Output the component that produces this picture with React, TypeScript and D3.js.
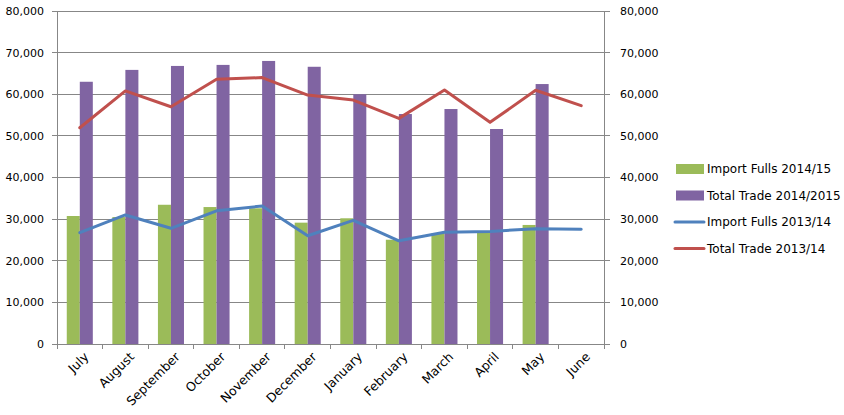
import * as d3 from 'd3';

const months = ['July', 'August', 'September', 'October', 'November', 'December', 'January', 'February', 'March', 'April', 'May', 'June'];
const importFulls1415 = [30750, 30500, 33450, 32900, 32600, 29150, 30200, 25050, 26550, 27000, 28600, null];
const totalTrade1415 = [63000, 65850, 66800, 67050, 68000, 66600, 60000, 55250, 56450, 51650, 62450, null];
const importFulls1314 = [26750, 31000, 27800, 32000, 33150, 26000, 29700, 24800, 26850, 27050, 27700, 27550];
const totalTrade1314 = [51950, 60800, 57000, 63600, 64000, 59800, 58600, 54200, 61000, 53250, 60950, 57250];
const yTicks = [0, 10000, 20000, 30000, 40000, 50000, 60000, 70000, 80000];

const GREEN = '#9BBB59', PURPLE = '#8064A2', BLUE = '#4F81BD', RED = '#C0504D';
const GRID = '#878787';
const FONT = 'DejaVu Sans';

export default function App() {
  const W = 844, H = 415;
  const m = { l: 57, r: 604, t: 11, b: 344 };

  const x = d3.scaleBand<string>().domain(months).range([m.l, m.r]).paddingInner(0).paddingOuter(0);
  const y = d3.scaleLinear().domain([0, 80000]).range([m.b, m.t]);
  const bw = x.bandwidth() / 3.5; // gap width 150%
  const cx = (d: string) => (x(d) as number) + x.bandwidth() / 2;
  const fmt = d3.format(',');

  const line = d3.line<number>().x((_, i) => cx(months[i])).y(v => y(v));

  const legend = [
    { label: 'Import Fulls 2014/15', color: GREEN, kind: 'bar' },
    { label: 'Total Trade 2014/2015', color: PURPLE, kind: 'bar' },
    { label: 'Import Fulls 2013/14', color: BLUE, kind: 'line' },
    { label: 'Total Trade 2013/14', color: RED, kind: 'line' },
  ];

  return (
    <svg width={W} height={H} style={{ position: 'absolute', left: 0, top: 0, background: '#fff' }} fontFamily={FONT}>
      {/* gridlines */}
      {yTicks.map(t => (
        <line key={'g' + t} x1={m.l - 5} x2={m.r + 6} y1={y(t)} y2={y(t)} stroke={GRID} strokeWidth={1} shapeRendering="crispEdges" />
      ))}
      {/* axes */}
      <line x1={m.l} x2={m.l} y1={m.t} y2={m.b} stroke={GRID} shapeRendering="crispEdges" />
      <line x1={m.r} x2={m.r} y1={m.t} y2={m.b} stroke={GRID} shapeRendering="crispEdges" />
      {months.concat(['']).map((_, i) => {
        const xx = m.l + i * x.bandwidth();
        return <line key={'xt' + i} x1={xx} x2={xx} y1={m.b} y2={m.b + 5} stroke={GRID} shapeRendering="crispEdges" />;
      })}
      {/* y labels */}
      {yTicks.map(t => (
        <text key={'yl' + t} x={44} y={y(t)} dy="0.36em" textAnchor="end" fontSize={11} fill="#000">{fmt(t)}</text>
      ))}
      {yTicks.map(t => (
        <text key={'yr' + t} x={620} y={y(t)} dy="0.36em" textAnchor="start" fontSize={11} fill="#000">{fmt(t)}</text>
      ))}
      {/* x labels */}
      {months.map(mo => (
        <text key={'xl' + mo} transform={`translate(${cx(mo) + 3},${m.b + 7}) rotate(-45)`} textAnchor="end" dy="0.75em" fontSize={12.5} fill="#000">{mo}</text>
      ))}
      {/* bars */}
      {months.map((mo, i) => (
        <g key={'b' + mo}>
          {importFulls1415[i] != null && (
            <rect x={cx(mo) - bw} width={bw} y={y(importFulls1415[i] as number)} height={y(0) - y(importFulls1415[i] as number)} fill={GREEN} />
          )}
          {totalTrade1415[i] != null && (
            <rect x={cx(mo)} width={bw} y={y(totalTrade1415[i] as number)} height={y(0) - y(totalTrade1415[i] as number)} fill={PURPLE} />
          )}
        </g>
      ))}
      {/* lines */}
      <path d={line(importFulls1314) || ''} fill="none" stroke={BLUE} strokeWidth={3} strokeLinejoin="round" strokeLinecap="round" />
      <path d={line(totalTrade1314) || ''} fill="none" stroke={RED} strokeWidth={3} strokeLinejoin="round" strokeLinecap="round" />
      {/* legend */}
      {legend.map((d, i) => {
        const yy = 169 + i * 26.5;
        return (
          <g key={'lg' + i}>
            {d.kind === 'bar'
              ? <rect x={676} y={yy - 5} width={28} height={10} fill={d.color} />
              : <line x1={675} x2={704} y1={yy} y2={yy} stroke={d.color} strokeWidth={3} strokeLinecap="round" />}
            <text x={707} y={yy} dy="0.36em" fontSize={12} fill="#000">{d.label}</text>
          </g>
        );
      })}
    </svg>
  );
}
